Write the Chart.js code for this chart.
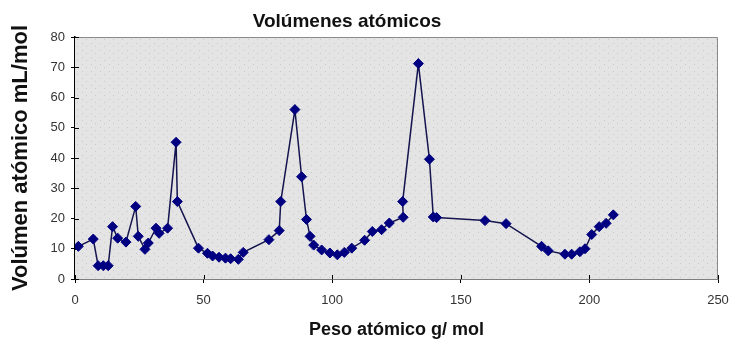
<!DOCTYPE html>
<html>
<head>
<meta charset="utf-8">
<script src="https://cdn.jsdelivr.net/npm/chart.js@4/dist/chart.umd.min.js"></script>
<style>
  html, body { margin: 0; padding: 0; background: #fff; }
  #wrap { width: 731px; height: 345px; }
</style>
</head>
<body>
<div id="wrap"><canvas id="grafico" width="731" height="345"></canvas></div>
<script>
// Datos
const pesos = [1.3, 7.1, 9.0, 11.0, 12.9, 14.6, 16.6, 19.8, 23.6, 24.6,
  27.2, 28.5, 31.5, 32.7, 36.0, 39.3, 39.8, 48.0, 51.5, 53.5,
  56.0, 58.5, 60.5, 63.5, 65.4, 75.4, 79.4, 80.0, 85.5, 88.1,
  90.0, 91.4, 92.8, 95.9, 99.1, 102.0, 104.7, 107.6, 112.6, 115.6,
  119.2, 122.2, 127.6, 127.4, 133.5, 137.8, 139.3, 140.6, 159.4, 167.6,
  181.4, 184.0, 190.5, 193.1, 196.3, 198.3, 200.9, 203.8, 206.5, 209.3];
const volumenes = [10.8, 13.2, 4.4, 4.4, 4.4, 17.3, 13.5, 12.2, 24.0, 14.1,
  9.8, 11.9, 16.8, 15.1, 16.8, 45.2, 25.6, 10.2, 8.5, 7.6,
  7.2, 6.9, 6.7, 6.5, 8.8, 13.0, 16.0, 25.6, 56.0, 33.8,
  19.7, 14.1, 11.2, 9.6, 8.6, 8.0, 8.8, 10.2, 12.8, 15.7,
  16.3, 18.5, 20.4, 25.6, 71.2, 39.6, 20.5, 20.3, 19.3, 18.3,
  10.8, 9.3, 8.2, 8.2, 9.0, 10.0, 14.7, 17.3, 18.4, 21.2];
const ticksX = [0, 50, 100, 150, 200, 250];
const ticksY = [0, 10, 20, 30, 40, 50, 60, 70, 80];
const titulo = 'Volúmenes atómicos';

const puntos = pesos.map((p, i) => ({ x: p, y: volumenes[i] }));

// fondo punteado del área de trazado
function crearTrama(ctx) {
  const c = document.createElement('canvas');
  c.width = 9; c.height = 7;
  const g = c.getContext('2d');
  g.fillStyle = '#e4e4e4';
  g.fillRect(0, 0, 9, 7);
  g.fillStyle = '#c9c9c9';
  g.fillRect(1, 1, 1, 1);
  g.fillRect(5, 4, 1, 1);
  return ctx.createPattern(c, 'repeat');
}

const fondoPlugin = {
  id: 'fondo',
  beforeDatasetsDraw(chart) {
    const { ctx, chartArea: a } = chart;
    ctx.save();
    ctx.fillStyle = crearTrama(ctx);
    ctx.fillRect(a.left, a.top, a.right - a.left, a.bottom - a.top);
    ctx.strokeStyle = '#8a8a8a';
    ctx.lineWidth = 1;
    ctx.beginPath();
    ctx.moveTo(a.left, a.top + 0.5);
    ctx.lineTo(a.right - 0.5, a.top + 0.5);
    ctx.lineTo(a.right - 0.5, a.bottom);
    ctx.stroke();
    // marcas hacia dentro (tipo cruz)
    ctx.strokeStyle = '#000';
    ctx.beginPath();
    ticksX.forEach(v => {
      const px = Math.round(chart.scales.x.getPixelForValue(v)) + 0.5;
      ctx.moveTo(px, a.bottom);
      ctx.lineTo(px, a.bottom - 4);
    });
    ticksY.forEach(v => {
      const py = Math.round(chart.scales.y.getPixelForValue(v)) + 0.5;
      ctx.moveTo(a.left, py);
      ctx.lineTo(a.left + 4, py);
    });
    ctx.stroke();
    ctx.restore();
  },
  afterDraw(chart) {
    const { ctx } = chart;
    ctx.save();
    ctx.font = 'bold 19px "Liberation Sans", Arial, sans-serif';
    ctx.fillStyle = '#111';
    ctx.textAlign = 'center';
    ctx.textBaseline = 'alphabetic';
    ctx.fillText(titulo, 347, 27);
    ctx.restore();
  }
};

new Chart(document.getElementById('grafico'), {
  type: 'scatter',
  data: {
    datasets: [{
      data: puntos,
      showLine: true,
      borderColor: '#14144f',
      borderWidth: 1.5,
      pointStyle: 'rectRot',
      pointRadius: 5,
      pointBackgroundColor: '#000080',
      pointBorderColor: '#000080',
      pointBorderWidth: 1
    }]
  },
  options: {
    responsive: false,
    animation: false,
    layout: { padding: { top: 37, right: 13, bottom: 0, left: 0 } },
    plugins: { legend: { display: false }, tooltip: { enabled: false } },
    scales: {
      x: {
        type: 'linear',
        min: 0, max: 250,
        afterBuildTicks: s => { s.ticks = ticksX.map(v => ({ value: v })); },
        afterFit: s => { s.height = 66; s.paddingRight = 0; s.paddingLeft = 0; },
        border: { color: '#000', width: 1.5 },
        grid: { drawOnChartArea: false, drawTicks: true, tickLength: 4, color: '#000' },
        ticks: { color: '#333', font: { size: 13, family: 'Liberation Sans' }, padding: 10 },
        title: {
          display: true, text: 'Peso atómico g/ mol', color: '#111',
          font: { size: 18, weight: 'bold', family: 'Liberation Sans' }, padding: { top: 0 }
        }
      },
      y: {
        min: 0, max: 80,
        afterBuildTicks: s => { s.ticks = ticksY.map(v => ({ value: v })); },
        afterFit: s => { s.width = 75; },
        border: { color: '#000', width: 1.5 },
        grid: { drawOnChartArea: false, drawTicks: true, tickLength: 4, color: '#000' },
        ticks: { color: '#333', font: { size: 13, family: 'Liberation Sans' }, padding: 6 },
        title: {
          display: true, text: 'Volúmen atómico mL/mol', color: '#111',
          font: { size: 22, weight: 'bold', family: 'Liberation Sans' }, padding: { bottom: 0, top: 8 }
        }
      }
    }
  },
  plugins: [fondoPlugin]
});
</script>
</body>
</html>
